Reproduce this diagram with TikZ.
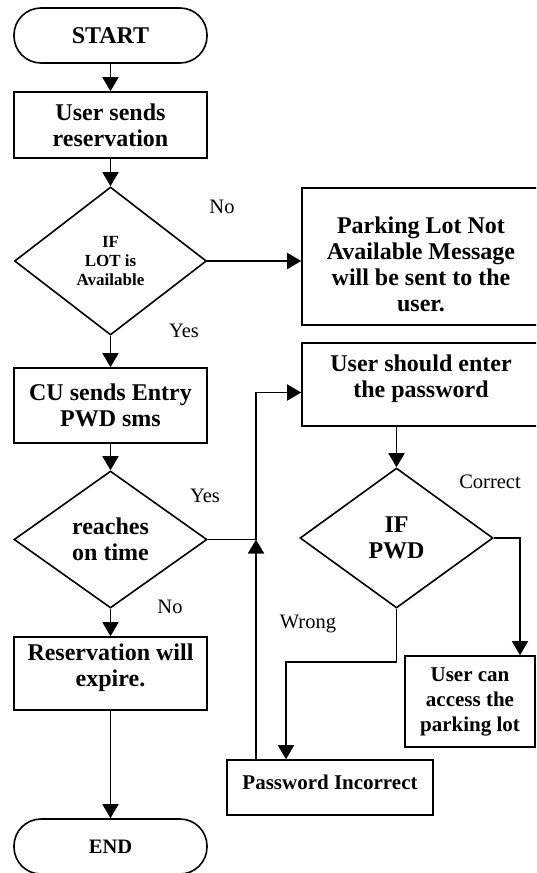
\documentclass[tikz,border=0pt]{standalone}
\usepackage{fontspec}
\setmainfont{Liberation Serif}
\usetikzlibrary{arrows.meta,shapes.geometric}

\begin{document}
\begin{tikzpicture}[x=1pt,y=-1pt,
  line width=1.6pt,
  flow/.style={-{Triangle[length=14pt,width=16pt]}},
  boxfont/.style={font=\fontsize{24}{26}\selectfont\bfseries},
  procbox/.style={draw, rectangle, boxfont, align=center, inner sep=0pt},
  termbox/.style={procbox, rounded corners=27pt},
  decbox/.style={draw, diamond, boxfont, align=center, inner sep=0pt},
  answer/.style={font=\fontsize{20.5}{22}\selectfont}]
  \clip (0,0) rectangle (536,873);
  % Left column: main reservation flow
  \node[termbox, minimum width=193pt, minimum height=55pt] (start) at (110.5,35.5) {START};
  \node[procbox, minimum width=193pt, minimum height=66pt] (send) at (110.5,125) {User sends\\reservation};
  \node[decbox, minimum width=192pt, minimum height=148pt, font=\fontsize{17}{19}\selectfont\bfseries] (lot) at (110.5,261) {IF\\LOT is\\Available};
  \node[procbox, minimum width=193pt, minimum height=75pt] (sms) at (110.5,405.5) {CU sends Entry\\PWD sms};
  \node[decbox, minimum width=193pt, minimum height=137pt] (time) at (110.5,539.5) {reaches\\on time};
  \node[procbox, minimum width=193pt, minimum height=73pt] (expire) at (110.5,673.5) {Reservation will\\expire.\rule[-16pt]{0pt}{16pt}};
  \node[termbox, minimum width=193pt, minimum height=55pt, font=\fontsize{20.5}{22}\selectfont\bfseries] (end) at (110.5,846.5) {END};
  % Right column: password check
  \node[procbox, minimum width=238pt, minimum height=137pt] (full) at (421,256.5) {\rule{0pt}{33pt}Parking Lot Not\\Available Message\\will be sent to the\\user.};
  \node[procbox, minimum width=238pt, minimum height=83pt] (enter) at (421,384.5) {User should enter\\the password\rule[-16pt]{0pt}{16pt}};
  \node[decbox, minimum width=193pt, minimum height=140pt] (pwd) at (396.5,538) {IF\\PWD};
  \node[procbox, minimum width=130pt, minimum height=91pt, font=\fontsize{21}{25}\selectfont\bfseries] (access) at (470,701.5) {User can\\access the\\parking lot};
  \node[procbox, minimum width=206pt, minimum height=55pt, font=\fontsize{21}{23}\selectfont\bfseries, text depth=11pt] (wrongbox) at (330,787.5) {Password Incorrect};
  % Bend points
  \coordinate (j1) at (256,539.5);
  \coordinate (c1) at (520,538);
  \coordinate (w1) at (286,662);
  % Connectors
  \draw[flow] (start) -- (send);
  \draw[flow] (send) -- (lot);
  \draw[flow] (lot) -- (sms);
  \draw[flow] (sms) -- (time);
  \draw[flow] (time) -- (expire);
  \draw[flow] (expire) -- (end);
  \draw[flow] (lot.east) -- (lot.east -| full.west);
  \draw[flow] (time.east) -- (j1) |- ([yshift=-8pt]enter.west);
  \draw[flow] (wrongbox.north -| j1) -- (j1);
  \draw[flow] (enter.south -| pwd.north) -- (pwd.north);
  \draw[flow] (pwd.east) -- (c1) -- (c1 |- access.north);
  \draw[flow] (pwd.south) |- (w1) -- (w1 |- wrongbox.north);
  % Answer labels
  \node[answer] (no1) at (222,207) {No};
  \node[answer] (yes1) at (184,331) {Yes};
  \node[answer] (yes2) at (205,496) {Yes};
  \node[answer] (no2) at (170,607) {No};
  \node[answer] (correct) at (490,482) {Correct};
  \node[answer] (wrong) at (308,624) {Wrong};
\end{tikzpicture}
\end{document}
